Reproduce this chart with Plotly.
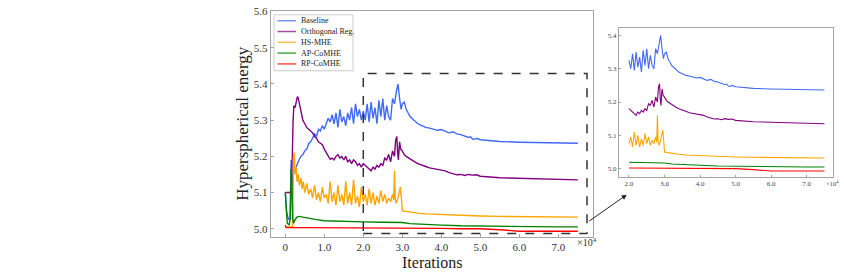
import plotly.graph_objects as go

W, H = 844, 273

# ---------------- data (x in units of 1e4 iterations) ----------------
names = ["Baseline", "Orthogonal Reg.", "HS-MHE", "AP-CoMHE", "RP-CoMHE"]
colors = ["#4169f5", "#800080", "#ffa500", "#008000", "#ff0000"]

baseline_x = [0, 0.03, 0.08, 0.12, 0.15, 0.17, 0.20, 0.25, 0.30, 0.35, 0.40, 0.45, 0.50, 0.55, 0.60, 0.65,
              0.70, 0.75, 0.80, 0.85, 0.90, 0.95, 1.00, 1.05, 1.10, 1.15, 1.20, 1.25, 1.30, 1.35, 1.40, 1.45,
              1.50, 1.55, 1.60, 1.65, 1.70, 1.75, 1.80, 1.85, 1.90, 1.95, 2.00, 2.05, 2.10, 2.15, 2.20, 2.25,
              2.30, 2.35, 2.40, 2.45, 2.50, 2.55, 2.60, 2.65, 2.70, 2.75, 2.80, 2.85, 2.89, 2.93, 2.97, 3.00,
              3.05, 3.10, 3.15, 3.20, 3.30, 3.40, 3.50, 3.60, 3.70, 3.80, 3.90, 4.00, 4.10, 4.20, 4.30, 4.40,
              4.50, 4.60, 4.70, 4.75, 4.80, 4.85, 4.90, 5.00, 5.25, 5.50, 6.00, 6.50, 7.00, 7.50]
baseline_y = [5.10, 5.05, 5.025, 5.03, 5.19, 5.12, 5.15, 5.165, 5.18, 5.19, 5.20, 5.205, 5.215, 5.22, 5.235, 5.24,
              5.25, 5.262, 5.255, 5.275, 5.27, 5.285, 5.275, 5.29, 5.305, 5.295, 5.315, 5.29, 5.32, 5.28, 5.33, 5.295,
              5.31, 5.285, 5.32, 5.30, 5.335, 5.29, 5.345, 5.31, 5.33, 5.30, 5.325, 5.30, 5.345, 5.295, 5.35, 5.305,
              5.335, 5.29, 5.355, 5.31, 5.36, 5.30, 5.34, 5.31, 5.30, 5.36, 5.345, 5.38, 5.40, 5.36, 5.33, 5.345,
              5.35, 5.33, 5.32, 5.31, 5.30, 5.29, 5.285, 5.28, 5.278, 5.275, 5.272, 5.274, 5.27, 5.265, 5.268, 5.262,
              5.26, 5.256, 5.252, 5.254, 5.248, 5.247, 5.25, 5.246, 5.243, 5.241, 5.239, 5.238, 5.237, 5.236]

ortho_x = [0, 0.16, 0.20, 0.22, 0.25, 0.28, 0.31, 0.33, 0.36, 0.40, 0.45, 0.50, 0.55, 0.60, 0.65, 0.70,
           0.75, 0.80, 0.85, 0.90, 0.95, 1.00, 1.05, 1.10, 1.15, 1.20, 1.25, 1.30, 1.35, 1.40, 1.45, 1.50,
           1.55, 1.60, 1.65, 1.70, 1.75, 1.80, 1.85, 1.90, 1.95, 2.00, 2.05, 2.10, 2.15, 2.20, 2.25, 2.30,
           2.35, 2.40, 2.45, 2.50, 2.55, 2.60, 2.65, 2.70, 2.75, 2.80, 2.83, 2.86, 2.88, 2.90, 2.93, 2.96,
           3.00, 3.05, 3.10, 3.20, 3.30, 3.40, 3.50, 3.60, 3.70, 3.80, 3.90, 4.00, 4.10, 4.20, 4.30, 4.40,
           4.50, 4.60, 4.70, 4.80, 4.90, 5.00, 5.50, 6.00, 6.50, 7.00, 7.50]
ortho_y = [5.10, 5.10, 5.30, 5.34, 5.335, 5.35, 5.365, 5.362, 5.345, 5.32, 5.30, 5.29, 5.28, 5.275, 5.27, 5.265,
           5.255, 5.25, 5.24, 5.235, 5.232, 5.22, 5.21, 5.20, 5.192, 5.195, 5.19, 5.20, 5.205, 5.195, 5.20, 5.19,
           5.20, 5.185, 5.19, 5.18, 5.19, 5.185, 5.175, 5.18, 5.17, 5.18, 5.175, 5.17, 5.165, 5.16, 5.17, 5.165,
           5.175, 5.17, 5.18, 5.175, 5.195, 5.19, 5.205, 5.185, 5.215, 5.20, 5.245, 5.255, 5.21, 5.19, 5.24, 5.22,
           5.215, 5.205, 5.20, 5.192, 5.186, 5.18, 5.175, 5.172, 5.168, 5.166, 5.163, 5.162, 5.16, 5.155, 5.152, 5.149,
           5.15, 5.147, 5.15, 5.148, 5.149, 5.145, 5.141, 5.139, 5.137, 5.136, 5.135]

hs_x = [0, 0.19, 0.21, 0.23, 0.25, 0.28, 0.30, 0.33, 0.36, 0.40, 0.43, 0.46, 0.50, 0.55, 0.60, 0.65,
        0.70, 0.75, 0.80, 0.85, 0.90, 0.95, 1.00, 1.05, 1.10, 1.15, 1.20, 1.25, 1.30, 1.35, 1.40, 1.45,
        1.50, 1.55, 1.60, 1.65, 1.70, 1.75, 1.80, 1.85, 1.90, 1.95, 2.00, 2.05, 2.10, 2.15, 2.20, 2.25,
        2.30, 2.35, 2.40, 2.45, 2.50, 2.55, 2.60, 2.65, 2.70, 2.75, 2.78, 2.80, 2.82, 2.85, 2.90, 2.95,
        2.98, 3.00, 3.10, 3.20, 3.40, 3.60, 3.80, 4.00, 4.50, 5.00, 5.50, 6.00, 6.50, 7.00, 7.50]
hs_y = [5.005, 5.005, 5.20, 5.21, 5.15, 5.17, 5.13, 5.15, 5.12, 5.14, 5.11, 5.13, 5.10, 5.125, 5.095, 5.11,
        5.085, 5.12, 5.08, 5.10, 5.075, 5.115, 5.085, 5.095, 5.07, 5.13, 5.075, 5.10, 5.065, 5.12, 5.075, 5.095,
        5.065, 5.13, 5.07, 5.10, 5.065, 5.135, 5.07, 5.09, 5.06, 5.115, 5.075, 5.095, 5.065, 5.11, 5.07, 5.10,
        5.065, 5.09, 5.07, 5.105, 5.075, 5.095, 5.07, 5.085, 5.075, 5.095, 5.08, 5.16, 5.08, 5.07, 5.09, 5.115,
        5.08, 5.05, 5.048, 5.046, 5.043, 5.041, 5.04, 5.038, 5.037, 5.035, 5.034, 5.033, 5.033, 5.032, 5.032]

ap_x = [0, 0.02, 0.05, 0.10, 0.13, 0.15, 0.17, 0.19, 0.21, 0.25, 0.30, 0.35, 0.40, 0.50, 0.60, 0.80,
        1.00, 1.20, 1.50, 2.00, 2.50, 3.00, 3.20, 3.50, 4.00, 4.50, 5.00, 6.00, 7.00, 7.50]
ap_y = [5.10, 5.05, 5.015, 5.01, 5.03, 5.165, 5.12, 5.03, 5.015, 5.025, 5.032, 5.034, 5.033, 5.03, 5.028, 5.025,
        5.022, 5.021, 5.02, 5.019, 5.018, 5.017, 5.014, 5.012, 5.01, 5.008, 5.007, 5.006, 5.005, 5.005]

rp_x = [0, 0.02, 0.50, 1.00, 1.50, 2.00, 2.50, 3.00, 3.50, 4.00, 4.50, 5.00, 5.50, 6.00, 6.50, 7.00, 7.50]
rp_y = [5.01, 5.003, 5.003, 5.003, 5.003, 5.002, 5.002, 5.002, 5.001, 5.001, 5.0, 5.0, 4.997, 4.993, 4.993, 4.993, 4.993]

series_x = [baseline_x, ortho_x, hs_x, ap_x, rp_x]
series_y = [baseline_y, ortho_y, hs_y, ap_y, rp_y]

main_yticks = [5.0, 5.1, 5.2, 5.3, 5.4, 5.5, 5.6]
main_xticks = [0, 1, 2, 3, 4, 5, 6, 7]
main_xticktext = ["0", "1.0", "2.0", "3.0", "4.0", "5.0", "6.0", "7.0"]
inset_yticks = [5.0, 5.1, 5.2, 5.3, 5.4]
inset_xticks = [2, 3, 4, 5, 6, 7]
zoom_start = 2.0

# ---------------- figure ----------------
SERIF = "Liberation Serif, Times New Roman, serif"
SPINE = "#a3a3a3"


def px_x(p):
    return p / W


def px_y(p):
    return 1 - p / H


fig = go.Figure()
for nm, c, xs, ys in zip(names, colors, series_x, series_y):
    fig.add_trace(go.Scatter(x=xs, y=ys, mode="lines", name=nm,
                             line=dict(color=c, width=1.4), showlegend=False,
                             xaxis="x", yaxis="y"))
for nm, c, xs, ys in zip(names, colors, series_x, series_y):
    sx = [a for a in xs if a >= zoom_start]
    sy = [b for a, b in zip(xs, ys) if a >= zoom_start]
    fig.add_trace(go.Scatter(x=sx, y=sy, mode="lines", name=nm,
                             line=dict(color=c, width=1.1), showlegend=False,
                             xaxis="x2", yaxis="y2"))

axis_common = dict(showline=True, mirror=True, linecolor=SPINE, linewidth=1,
                   showgrid=False, zeroline=False, ticks="inside", tickcolor=SPINE)

fig.update_layout(
    width=W, height=H, autosize=False,
    margin=dict(l=0, r=0, t=0, b=0),
    paper_bgcolor="white", plot_bgcolor="white",
    xaxis=dict(domain=[px_x(270.7), px_x(592.7)], range=[-0.374, 7.882],
               tickvals=main_xticks, ticktext=main_xticktext, ticklen=3,
               tickfont=dict(family=SERIF, size=11, color="#333333"), **axis_common),
    yaxis=dict(domain=[px_y(236), px_y(6)], range=[4.978, 5.602],
               tickvals=main_yticks, ticktext=[f"{v:.1f}" for v in main_yticks], ticklen=3,
               tickfont=dict(family=SERIF, size=11, color="#333333"), **axis_common),
    xaxis2=dict(domain=[px_x(619), px_x(833)], range=[1.719, 7.74], anchor="y2",
                tickvals=inset_xticks, ticktext=[f"{v:.1f}" for v in inset_xticks], ticklen=2,
                tickfont=dict(family=SERIF, size=7, color="#444444"), **axis_common),
    yaxis2=dict(domain=[px_y(175), px_y(23)], range=[4.9755, 5.4236], anchor="x2",
                tickvals=inset_yticks, ticktext=[f"{v:.1f}" for v in inset_yticks], ticklen=2,
                tickfont=dict(family=SERIF, size=7, color="#444444"), **axis_common),
)

# zoom-region dashed box in data coordinates of the main axes
fig.add_shape(type="rect", xref="x", yref="y", x0=2.0, x1=7.736, y0=4.987, y1=5.429,
              line=dict(color="#333333", width=1.5, dash="dash"))

# arrow from zoom box to inset
fig.add_annotation(xref="paper", yref="paper", x=px_x(626.7), y=px_y(193.3),
                   ax=-39, ay=27.4, axref="pixel", ayref="pixel",
                   showarrow=True, arrowhead=2, arrowsize=1, arrowwidth=1,
                   arrowcolor="#2a1f1f", text="")

# axis titles
fig.add_annotation(xref="paper", yref="paper", x=px_x(431.7), y=px_y(262),
                   xanchor="center", yanchor="middle",
                   text="Iterations", showarrow=False,
                   font=dict(family=SERIF, size=16, color="#222222"))
fig.add_annotation(xref="paper", yref="paper", x=px_x(243), y=px_y(121),
                   xanchor="center", yanchor="middle",
                   text="Hyperspherical energy", textangle=-90, showarrow=False,
                   font=dict(family=SERIF, size=17, color="#222222"))
# exponent labels
fig.add_annotation(xref="paper", yref="paper", x=px_x(587), y=px_y(241),
                   xanchor="center", yanchor="middle",
                   text="×10<sup>4</sup>", showarrow=False,
                   font=dict(family=SERIF, size=10, color="#333333"))
fig.add_annotation(xref="paper", yref="paper", x=px_x(832), y=px_y(181),
                   xanchor="center", yanchor="middle",
                   text="×10<sup>4</sup>", showarrow=False,
                   font=dict(family=SERIF, size=6.5, color="#444444"))

# legend (manual, compact)
lg_left, lg_top, lg_right, lg_bottom = 274, 10, 353, 67
fig.add_shape(type="rect", xref="paper", yref="paper",
              x0=px_x(lg_left), x1=px_x(lg_right), y0=px_y(lg_bottom), y1=px_y(lg_top),
              line=dict(color="#cccccc", width=1), fillcolor="white", layer="above")
for i, (nm, c) in enumerate(zip(names, colors)):
    yy = 16 + i * 11
    fig.add_shape(type="line", xref="paper", yref="paper",
                  x0=px_x(277.5), x1=px_x(296), y0=px_y(yy), y1=px_y(yy),
                  line=dict(color=c, width=1.5), opacity=0.7, layer="above")
    fig.add_annotation(xref="paper", yref="paper", x=px_x(299), y=px_y(yy),
                       xanchor="left", yanchor="middle", text=nm, showarrow=False,
                       font=dict(family=SERIF, size=8, color="#222222"))

# the page body has a default 8px margin; remove it so the figure fills the window exactly
fig.write_html("out.html", config={"displayModeBar": False},
               post_script="document.body.style.margin='0px';")
